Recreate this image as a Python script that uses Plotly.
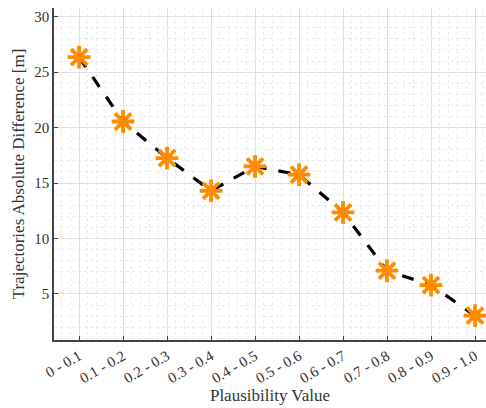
import plotly.graph_objects as go

# Plausibility bins and mean absolute trajectory difference per bin
categories = ["0 - 0.1", "0.1 - 0.2", "0.2 - 0.3", "0.3 - 0.4", "0.4 - 0.5",
              "0.5 - 0.6", "0.6 - 0.7", "0.7 - 0.8", "0.8 - 0.9", "0.9 - 1.0"]
abs_diff = [26.35, 20.55, 17.25, 14.3, 16.5, 15.75, 12.35, 7.1, 5.8, 3.05]
y_ticks = [5, 10, 15, 20, 25, 30]

positions = list(range(len(categories)))
font_family = "Liberation Serif"
text_color = "#333333"

fig = go.Figure()
fig.add_trace(go.Scatter(
    x=positions, y=abs_diff, mode="lines",
    line=dict(color="black", width=3.2, dash="12px,12px"),
    showlegend=False, hoverinfo="skip",
))
fig.add_trace(go.Scatter(
    x=positions, y=abs_diff, mode="markers",
    marker=dict(symbol="asterisk-open", size=19, color="#FF8C00",
                line=dict(color="#FF8C00", width=3.8)),
    showlegend=False,
))

fig.update_layout(
    width=486, height=408,
    margin=dict(l=54, r=0, t=8, b=68),
    paper_bgcolor="white", plot_bgcolor="white",
    font=dict(family=font_family, color=text_color, size=15),
    xaxis=dict(
        range=[-0.57, 9.25],
        tickmode="array", tickvals=positions, ticktext=categories,
        tickangle=-30, tickfont=dict(size=15),
        showline=True, linecolor="#444444", linewidth=1.5,
        ticks="inside", ticklen=4, tickcolor="#444444",
        showgrid=True, gridcolor="#e0e0e0", gridwidth=1,
        zeroline=False,
        minor=dict(dtick=0.2, tick0=0, showgrid=True, gridcolor="#ebebeb",
                   griddash="dot", gridwidth=1),
        title=dict(text="Plausibility Value", font=dict(size=17), standoff=4),
    ),
    yaxis=dict(
        range=[0.85, 30.78],
        tickmode="array", tickvals=y_ticks,
        tickfont=dict(size=15),
        showline=True, linecolor="#444444", linewidth=1.5,
        ticks="inside", ticklen=4, tickcolor="#444444",
        showgrid=True, gridcolor="#e0e0e0", gridwidth=1,
        zeroline=False,
        minor=dict(dtick=1, tick0=0, showgrid=True, gridcolor="#ebebeb",
                   griddash="dot", gridwidth=1),
        title=dict(text="Trajectories Absolute Difference [m]",
                   font=dict(size=17), standoff=5),
    ),
)

fig.write_html("out.html")
